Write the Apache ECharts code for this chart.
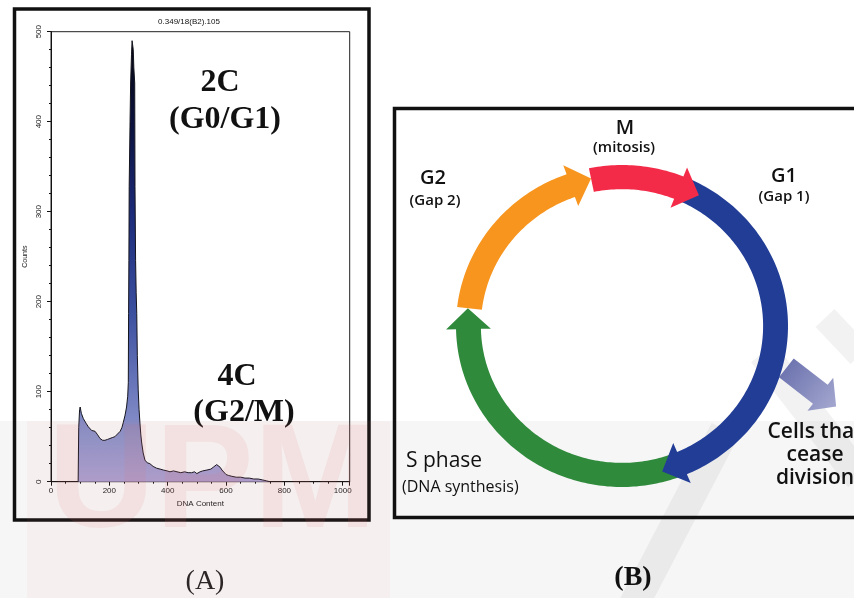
<!DOCTYPE html>
<html><head><meta charset="utf-8">
<script src="https://cdn.jsdelivr.net/npm/echarts@6/dist/echarts.min.js"></script>
<style>html,body{margin:0;padding:0;background:#fff}#c{width:854px;height:598px}</style>
</head><body><div id="c"></div>
<script>
// ---------- Panel A: DNA content histogram ----------
const dnaContent = [93, 95, 98, 100, 104, 111, 120, 128, 139, 151, 160, 168, 177, 185, 194, 202, 210, 219, 228, 237, 243, 248, 254, 259, 263, 265, 266, 267, 268, 271, 273, 276, 278, 280, 282, 284, 287, 288, 290, 292, 294, 296, 299, 302, 305, 308, 311, 316, 322, 330, 339, 350, 362, 374, 385, 398, 408, 420, 432, 445, 458, 470, 482, 492, 500, 511, 520, 535, 548, 556, 562, 568, 574, 580, 586, 591, 600, 608, 620, 635, 650, 665, 680, 695, 710, 725, 738, 750];
const counts = [0, 60, 80, 83, 76, 70, 65, 61, 57, 56, 52, 48, 46, 46, 47, 48, 49, 50, 53, 56, 60, 66, 74, 83, 95, 110, 187, 246, 328, 400, 443, 475, 490, 492, 480, 460, 443, 328, 246, 210, 187, 140, 102, 80, 65, 52, 43, 32, 24, 21, 20, 17, 15, 14, 13, 12, 11, 12, 11, 10, 11, 10, 10, 11, 9, 11, 12, 13, 14, 16, 17, 19, 18, 16, 13, 11, 8, 7, 6, 5, 5, 4, 4, 3, 3, 2, 1, 0];
const xTickLabels = [0, 200, 400, 600, 800, 1000];
const yTickLabels = [0, 100, 200, 300, 400, 500];
const histTitle = '0.349/18(B2).105';

// ---------- Panel B: cell cycle ----------
const phaseNames = ['S phase', 'G1', 'M', 'G2'];      // drawing order
const phaseStartDeg = [158, 22, 348.5, 276.8];        // clockwise from top
const phaseEndDeg = [276.8, 165, 389.7, 348.5];
const exitArrowFrom = [0.99, -0.26];
const exitArrowTo = [1.29, -0.50];

const phaseColors = ['#2f8a3c', '#213d96', '#f42b48', '#f7951e'];

const chart = echarts.init(document.getElementById('c'), null, {renderer: 'canvas'});

const headDeg = 8, rOut = 1, rIn = 0.85, barb = 0.06;
function ringPoint(api, r, deg) {
  const t = deg * Math.PI / 180;
  return api.coord([r * Math.sin(t), r * Math.cos(t)]);
}
function renderPhase(params, api) {
  const s = api.value(0), e = api.value(1), ci = api.value(2);
  const hb = e - headDeg;
  const pts = [];
  for (let a = s; a < hb; a += 1) pts.push(ringPoint(api, rOut, a));
  pts.push(ringPoint(api, rOut, hb));
  pts.push(ringPoint(api, rOut + barb, hb));
  pts.push(ringPoint(api, (rOut + rIn) / 2 + 0.01, e));
  pts.push(ringPoint(api, rIn - barb, hb));
  for (let a = hb; a > s; a -= 1) pts.push(ringPoint(api, rIn, a));
  pts.push(ringPoint(api, rIn, s));
  return {type: 'polygon', shape: {points: pts}, style: {fill: phaseColors[ci]}};
}
function renderExit(params, api) {
  const p0 = api.coord([api.value(0), api.value(1)]);
  const p1 = api.coord([api.value(2), api.value(3)]);
  const dx = p1[0] - p0[0], dy = p1[1] - p0[1], L = Math.hypot(dx, dy);
  const ux = dx / L, uy = dy / L, px = -uy, py = ux;
  const hl = 20, hw = 21, sw = 12;
  const bx = p1[0] - ux * hl, by = p1[1] - uy * hl;
  const pts = [
    [p0[0] + px * sw, p0[1] + py * sw], [bx + px * sw, by + py * sw], [bx + px * hw, by + py * hw],
    p1, [bx - px * hw, by - py * hw], [bx - px * sw, by - py * sw], [p0[0] - px * sw, p0[1] - py * sw]
  ];
  return {type: 'polygon', shape: {points: pts}, style: {
    fill: new echarts.graphic.LinearGradient(p0[0], p0[1], p1[0], p1[1],
      [{offset: 0, color: '#6f75b0'}, {offset: 1, color: '#a3a7cf'}], true)
  }};
}

function txt(text, x, y, font, opts) {
  return Object.assign({type: 'text', x: x, y: y, z: 50, silent: true,
    style: Object.assign({text: text, font: font, fill: '#111', textAlign: 'center', textVerticalAlign: 'middle'}, (opts || {}))});
}

const option = {
  backgroundColor: '#ffffff',
  animation: false,
  grid: [
    {left: 51, top: 31.7, width: 298.7, height: 450, show: true, borderColor: '#222', borderWidth: 1, backgroundColor: 'transparent'},
    {left: 456, top: 165, width: 332, height: 322, show: false}
  ],
  xAxis: [
    {gridIndex: 0, type: 'value', min: 0, max: 1024, interval: 200,
     name: 'DNA Content', nameLocation: 'middle', nameGap: 17,
     nameTextStyle: {fontFamily: 'Liberation Sans', fontSize: 8, color: '#222'},
     axisLine: {show: true, lineStyle: {color: '#111', width: 1}},
     axisTick: {show: true, length: 4, lineStyle: {color: '#111'}},
     minorTick: {show: true, splitNumber: 4, length: 2, lineStyle: {color: '#111'}},
     splitLine: {show: false},
     axisLabel: {fontFamily: 'Liberation Sans', fontSize: 8, color: '#222', margin: 5, showMaxLabel: false,
       formatter: v => xTickLabels.indexOf(v) >= 0 ? String(v) : ''}},
    {gridIndex: 1, type: 'value', min: -1, max: 1, show: false}
  ],
  yAxis: [
    {gridIndex: 0, type: 'value', min: 0, max: 500, interval: 100,
     name: 'Counts', nameLocation: 'middle', nameGap: 22, nameRotate: 90,
     nameTextStyle: {fontFamily: 'Liberation Sans', fontSize: 7, color: '#222'},
     axisLine: {show: true, lineStyle: {color: '#111', width: 1}},
     axisTick: {show: true, length: 4, lineStyle: {color: '#111'}},
     minorTick: {show: true, splitNumber: 5, length: 2, lineStyle: {color: '#111'}},
     splitLine: {show: false},
     axisLabel: {fontFamily: 'Liberation Sans', fontSize: 8, color: '#222', rotate: 90, margin: 8,
       formatter: v => yTickLabels.indexOf(v) >= 0 ? String(v) : ''}},
    {gridIndex: 1, type: 'value', min: -1, max: 1, show: false}
  ],
  series: [
    {type: 'line', xAxisIndex: 0, yAxisIndex: 0, z: 3,
     data: dnaContent.map((x, i) => [x, counts[i]]),
     symbol: 'none', showSymbol: false,
     lineStyle: {color: '#15151f', width: 1},
     areaStyle: {opacity: 1, color: new echarts.graphic.LinearGradient(0, 0, 0, 1, [
       {offset: 0, color: '#05060f'}, {offset: 0.2, color: '#0c1340'}, {offset: 0.4, color: '#1c2b7a'},
       {offset: 0.62, color: '#3c50a0'}, {offset: 0.8, color: '#6e7bbd'}, {offset: 0.9, color: '#8c93c9'},
       {offset: 1, color: '#ab9fcf'}])}},
    {type: 'custom', xAxisIndex: 1, yAxisIndex: 1, z: 3, renderItem: renderExit,
     data: [[exitArrowFrom[0], exitArrowFrom[1], exitArrowTo[0], exitArrowTo[1]]]},
    {type: 'custom', xAxisIndex: 1, yAxisIndex: 1, z: 4, renderItem: renderPhase,
     data: phaseNames.map((n, i) => ({name: n, value: [phaseStartDeg[i], phaseEndDeg[i], i]}))}
  ],
  graphic: [
    // faint page watermark (behind the drawings)
    {type: 'rect', z: 1, silent: true, shape: {x: 0, y: 421, width: 854, height: 177}, style: {fill: 'rgba(0,0,0,0.035)'}},
    {type: 'line', z: 1, silent: true, shape: {x1: 630, y1: 612, x2: 725, y2: 430}, style: {stroke: 'rgba(150,150,150,0.12)', lineWidth: 30}},
    {type: 'line', z: 1, silent: true, shape: {x1: 763, y1: 353, x2: 860, y2: 478}, style: {stroke: 'rgba(150,150,150,0.12)', lineWidth: 30}},
    {type: 'line', z: 1, silent: true, shape: {x1: 825, y1: 318, x2: 860, y2: 355}, style: {stroke: 'rgba(150,150,150,0.12)', lineWidth: 26}},
    // panel frames
    {type: 'rect', z: 40, silent: true, shape: {x: 14.5, y: 9, width: 354.5, height: 511}, style: {fill: 'none', stroke: '#111', lineWidth: 3.5}},
    {type: 'rect', z: 40, silent: true, shape: {x: 394.5, y: 108.5, width: 500, height: 409}, style: {fill: 'none', stroke: '#111', lineWidth: 3.5}},
    // panel A texts
    txt(histTitle, 189, 22, '8px "Liberation Sans"'),
    txt('2C', 220, 83, 'bold 32px "Liberation Serif"'),
    txt('(G0/G1)', 225, 120, 'bold 32px "Liberation Serif"'),
    txt('4C', 237, 377, 'bold 32px "Liberation Serif"'),
    txt('(G2/M)', 244, 413, 'bold 32px "Liberation Serif"'),
    // panel B texts
    txt('M', 625, 128, '600 20px "Open Sans"'),
    txt('(mitosis)', 624, 148, '600 15px "Open Sans"'),
    txt('G1', 784, 176, '600 20px "Open Sans"'),
    txt('(Gap 1)', 784, 197, '600 15px "Open Sans"'),
    txt('G2', 433, 178, '600 20px "Open Sans"'),
    txt('(Gap 2)', 435, 201, '600 15px "Open Sans"'),
    txt('S phase', 406, 461, '21px "Open Sans"', {textAlign: 'left'}),
    txt('(DNA synthesis)', 402, 487, '16px "Open Sans"', {textAlign: 'left'}),
    txt('Cells that\ncease\ndivision', 815, 455, '600 21px "Open Sans"', {lineHeight: 23}),
    // pink UPM watermark (overlay)
    {type: 'rect', z: 60, silent: true, shape: {x: 27, y: 421, width: 363, height: 177}, style: {fill: 'rgba(235,120,120,0.05)'}},
    {type: 'text', z: 61, silent: true, x: 48, y: 560, style: {text: 'UPM', font: 'bold 148px "Liberation Sans"', fill: 'rgba(230,110,110,0.11)', textAlign: 'left', textVerticalAlign: 'bottom'}},
    // panel captions
    txt('(A)', 205, 582, '28px "Liberation Serif"', {fill: '#222'}),
    txt('(B)', 633, 578, 'bold 28px "Liberation Serif"'),
  ]
};
chart.setOption(option);
</script></body></html>
